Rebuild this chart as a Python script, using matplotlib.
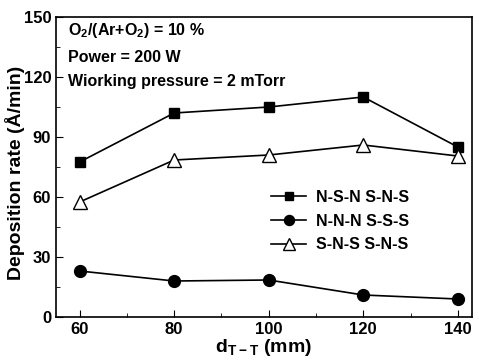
import matplotlib
matplotlib.use("Agg")
import matplotlib.pyplot as plt
from matplotlib.ticker import MultipleLocator

plt.rcParams['font.family'] = ['Liberation Sans', 'DejaVu Sans']
plt.rcParams['font.weight'] = 'bold'

x = [60, 80, 100, 120, 140]
nsn = [77.5, 102, 105, 110, 85]
nnn = [23, 18, 18.5, 11, 9]
sns_ = [57.5, 78.5, 81, 86, 80.5]
labels = ['N-S-N S-N-S', 'N-N-N S-S-S', 'S-N-S S-N-S']

fig = plt.figure(figsize=(4.79, 3.62), dpi=100)
ax = fig.add_axes([56/479, 1-317/362, (472-56)/479, (317-17)/362])
ax.plot(x, nsn, '-', color='black', marker='s', ms=7.5, lw=1.2, label=labels[0])
ax.plot(x, nnn, '-', color='black', marker='o', ms=8.5, lw=1.2, label=labels[1])
ax.plot(x, sns_, '-', color='black', marker='^', ms=10, mfc='white', mec='black', lw=1.2, label=labels[2])

ax.set_xlim(55, 143)
ax.set_ylim(0, 150)
ax.xaxis.set_major_locator(MultipleLocator(20))
ax.xaxis.set_minor_locator(MultipleLocator(10))
ax.yaxis.set_major_locator(MultipleLocator(30))
ax.yaxis.set_minor_locator(MultipleLocator(15))
ax.tick_params(which='both', direction='in', labelsize=12)
ax.tick_params(which='major', length=5)
ax.tick_params(which='minor', length=3)
for lab in ax.get_xticklabels() + ax.get_yticklabels():
    lab.set_fontweight('bold')
for s in ax.spines.values():
    s.set_linewidth(1.2)

ax.set_xlabel(r'd$_{\mathregular{T-T}}$ (mm)', fontsize=14, fontweight='bold', labelpad=0)
ax.set_ylabel('Deposition rate (Å/min)', fontsize=14, fontweight='bold')
ax.yaxis.set_label_coords(-0.074, 0.48)

ax.text(0.03, 0.985, r'O$_{\mathregular{2}}$/(Ar+O$_{\mathregular{2}}$) = 10 %', transform=ax.transAxes,
        fontsize=11.5, fontweight='bold', va='top')
ax.text(0.03, 0.89, 'Power = 200 W', transform=ax.transAxes, fontsize=11.5, fontweight='bold', va='top')
ax.text(0.03, 0.81, 'Wiorking pressure = 2 mTorr', transform=ax.transAxes, fontsize=11.5, fontweight='bold', va='top')

ax.legend(loc='center left', bbox_to_anchor=(0.49, 0.32), frameon=False,
          handlelength=2.2, handletextpad=0.6, labelspacing=0.55, borderpad=0.2,
          markerscale=0.85, prop={'weight': 'bold', 'size': 11.5})

fig.savefig('out.png', dpi=100)
